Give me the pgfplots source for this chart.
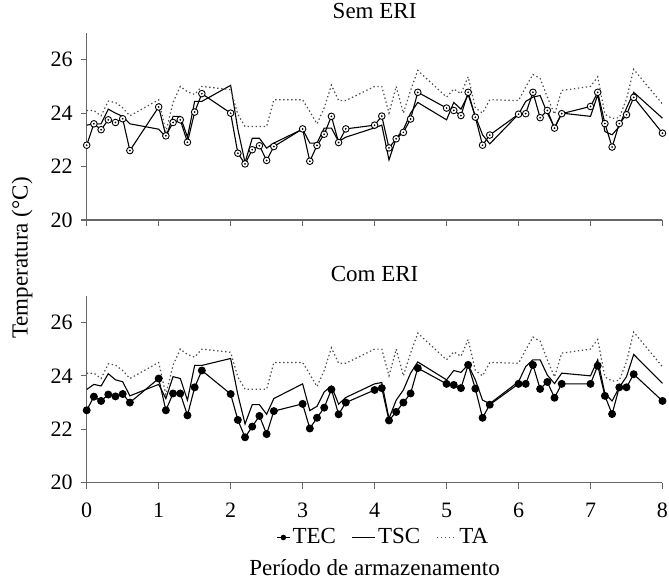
\documentclass[border=0pt]{standalone}
\usepackage{pgfplots}
\pgfplotsset{compat=1.18}
\usepackage{pgfplotstable}
\usepackage{fontspec}
\setmainfont{Liberation Serif}

\pgfdeclareplotmark{odot}{%
  \pgfpathcircle{\pgfpointorigin}{\pgfplotmarksize}\pgfusepathqfillstroke
  \begin{pgfscope}%
  \pgfsetfillcolor{black}%
  \pgfpathcircle{\pgfpointorigin}{0.3\pgfplotmarksize}\pgfusepathqfill
  \end{pgfscope}}

\pgfplotstableread{
x tec tsc ta
0.0 22.80 23.55 24.10
0.1 23.60 23.60 24.10
0.2 23.38 23.60 23.90
0.3 23.75 24.15 24.45
0.4 23.65 24.00 24.40
0.5 23.79 23.88 24.20
0.6 22.60 23.60 23.90
1.0 24.23 23.40 24.50
1.1 23.15 23.10 23.30
1.2 23.65 23.88 24.40
1.3 23.75 23.88 25.00
1.4 22.91 23.10 24.80
1.5 24.04 24.44 24.70
1.6 24.73 24.44 25.00
2.0 24.00 25.04 24.88
2.1 22.50 23.40 23.96
2.2 22.10 22.15 23.50
2.3 22.63 23.06 23.50
2.4 22.78 23.06 23.50
2.5 22.23 22.69 23.50
2.6 22.75 22.88 24.50
3.0 23.41 23.40 24.50
3.1 22.20 22.88 24.06
3.2 22.79 22.88 23.60
3.3 23.21 23.44 24.20
3.4 23.88 23.44 25.05
3.5 22.90 22.94 24.47
3.6 23.41 23.10 24.47
4.0 23.55 23.45 25.00
4.1 23.89 23.55 25.00
4.2 22.70 22.25 24.00
4.3 23.04 23.06 25.00
4.4 23.28 23.38 24.00
4.5 23.78 24.00 24.85
4.6 24.78 24.40 25.60
5.0 24.19 23.75 24.60
5.1 24.10 24.40 24.90
5.2 23.91 24.15 24.73
5.3 24.78 24.69 25.36
5.4 23.85 23.88 24.20
5.5 22.80 23.19 24.00
5.6 23.18 22.85 24.50
6.0 23.96 23.96 24.47
6.1 23.98 24.44 24.98
6.2 24.78 24.60 25.45
6.3 23.83 24.66 25.30
6.4 24.10 24.00 24.60
6.5 23.44 23.46 23.96
6.6 23.98 24.00 24.85
7.0 24.25 23.88 25.00
7.1 24.78 24.69 25.36
7.2 23.61 23.31 23.96
7.3 22.73 23.19 23.80
7.4 23.61 23.50 23.83
7.5 23.94 24.19 24.53
7.6 24.59 24.78 25.64
8.0 23.25 23.81 24.34
}\semeri

\pgfplotstableread{
x tec tsc ta
0.0 22.71 23.49 24.10
0.1 23.22 23.68 24.10
0.2 23.06 23.62 23.90
0.3 23.30 24.08 24.45
0.4 23.23 23.85 24.40
0.5 23.32 23.78 24.20
0.6 23.00 23.25 23.90
1.0 23.90 23.68 24.50
1.1 22.71 23.15 23.30
1.2 23.34 23.97 24.40
1.3 23.34 23.90 25.00
1.4 22.52 23.09 24.80
1.5 23.57 24.39 24.70
1.6 24.20 24.39 25.00
2.0 23.32 24.65 24.88
2.1 22.35 23.30 23.96
2.2 21.70 22.20 23.50
2.3 22.10 22.92 23.50
2.4 22.50 22.92 23.50
2.5 21.82 22.56 23.50
2.6 22.68 23.15 24.50
3.0 22.95 23.70 24.50
3.1 22.03 22.70 24.06
3.2 22.43 22.86 23.60
3.3 22.81 23.40 24.20
3.4 23.49 23.62 25.05
3.5 22.56 22.94 24.47
3.6 23.00 23.19 24.47
4.0 23.47 23.70 25.00
4.1 23.54 23.75 25.00
4.2 22.33 22.40 24.00
4.3 22.65 23.09 25.00
4.4 23.00 23.47 24.00
4.5 23.34 24.10 24.85
4.6 24.29 24.52 25.60
5.0 23.70 23.85 24.60
5.1 23.66 24.20 24.90
5.2 23.54 24.13 24.73
5.3 24.41 24.42 25.36
5.4 23.52 23.85 24.20
5.5 22.43 23.09 24.00
5.6 22.92 22.96 24.50
6.0 23.70 23.78 24.47
6.1 23.70 24.35 24.98
6.2 24.41 24.60 25.45
6.3 23.51 24.60 25.30
6.4 23.77 24.03 24.60
6.5 23.18 23.71 23.96
6.6 23.70 24.10 24.85
7.0 23.70 24.00 25.00
7.1 24.38 24.60 25.36
7.2 23.25 23.34 23.96
7.3 22.57 23.06 23.80
7.4 23.57 23.57 23.83
7.5 23.57 23.97 24.53
7.6 24.06 24.80 25.64
8.0 23.06 23.72 24.34
}\comeri

\pgfplotsset{
  panel/.style={
    width=287.9pt, height=93.5pt, scale only axis,
    xmin=0, xmax=8, ymin=20, ymax=27,
    axis lines*=left,
    xtick={0,1,...,8}, ytick={20,22,24,26},
    yticklabels={20,22,24,26},
    tick align=outside, major tick length=3pt,
    axis line style={black!60, line width=0.6pt},
    tick style={black!60, line width=0.6pt},
    tick label style={font=\fontsize{11}{12}\selectfont},
    xticklabel style={inner xsep=0pt, yshift=-3pt},
    title style={at={(0.5,1)}, anchor=south, inner sep=0pt, yshift=1pt, font=\fontsize{11.5}{13}\selectfont},
    clip=false,
  },
  tec/.style={black, line width=0.55pt},
  tsc/.style={black, line width=0.55pt},
  ta/.style={black!70, line width=0.6pt, dash pattern=on 0.7pt off 1.3pt},
}

\begin{document}
\fontsize{11.5}{13}\selectfont
\begin{tikzpicture}
\path (-43.35pt,110pt) rectangle (291.15pt,-178.5pt);

\begin{axis}[panel, name=top, at={(0,0)}, anchor=south west,
  xticklabels={}, title={Sem ERI}]
\addplot[tec, mark=odot, mark size=1.65pt, mark options={solid, fill=white, line width=0.45pt}] table[x=x,y=tec]{\semeri};
\addplot[tsc] table[x=x,y=tsc]{\semeri};
\addplot[ta] table[x=x,y=ta]{\semeri};
\end{axis}

\begin{axis}[panel, name=bot, at={(0,-131.35pt)}, anchor=south west,
  xticklabels={0,1,2,3,4,5,6,7,8},
  title={Com ERI},
  xlabel={Período de armazenamento},
  xlabel style={at={(axis description cs:0.5,-0.4936)}, anchor=base, font=\fontsize{11.5}{13}\selectfont},
  legend style={at={(0.515,-0.293)}, anchor=center, draw=none, fill=none,
    legend columns=3, font=\fontsize{11.5}{13}\selectfont,
    /tikz/every even column/.append style={column sep=7pt},
    nodes={inner sep=1pt},
    inner sep=0pt},
  ]
\addplot[tec, mark=*, mark size=1.7pt, mark options={solid},
  legend image code/.code={\draw[mark size=1.1pt, mark repeat=2,mark phase=2] plot coordinates {(0pt,0pt) (3.3pt,0pt) (6.6pt,0pt)};}] table[x=x,y=tec]{\comeri};
\addplot[tsc, legend image code/.code={\draw (0pt,0pt) -- (11.5pt,0pt);}] table[x=x,y=tsc]{\comeri};
\addplot[ta, legend image code/.code={\draw (0pt,0pt) -- (10pt,0pt);}] table[x=x,y=ta]{\comeri};
\legend{TEC,TSC,TA}
\end{axis}

\node[rotate=90, font=\fontsize{11.5}{13}\selectfont] at (-32.35pt,-19pt) {Temperatura (°C)};
\end{tikzpicture}
\end{document}
